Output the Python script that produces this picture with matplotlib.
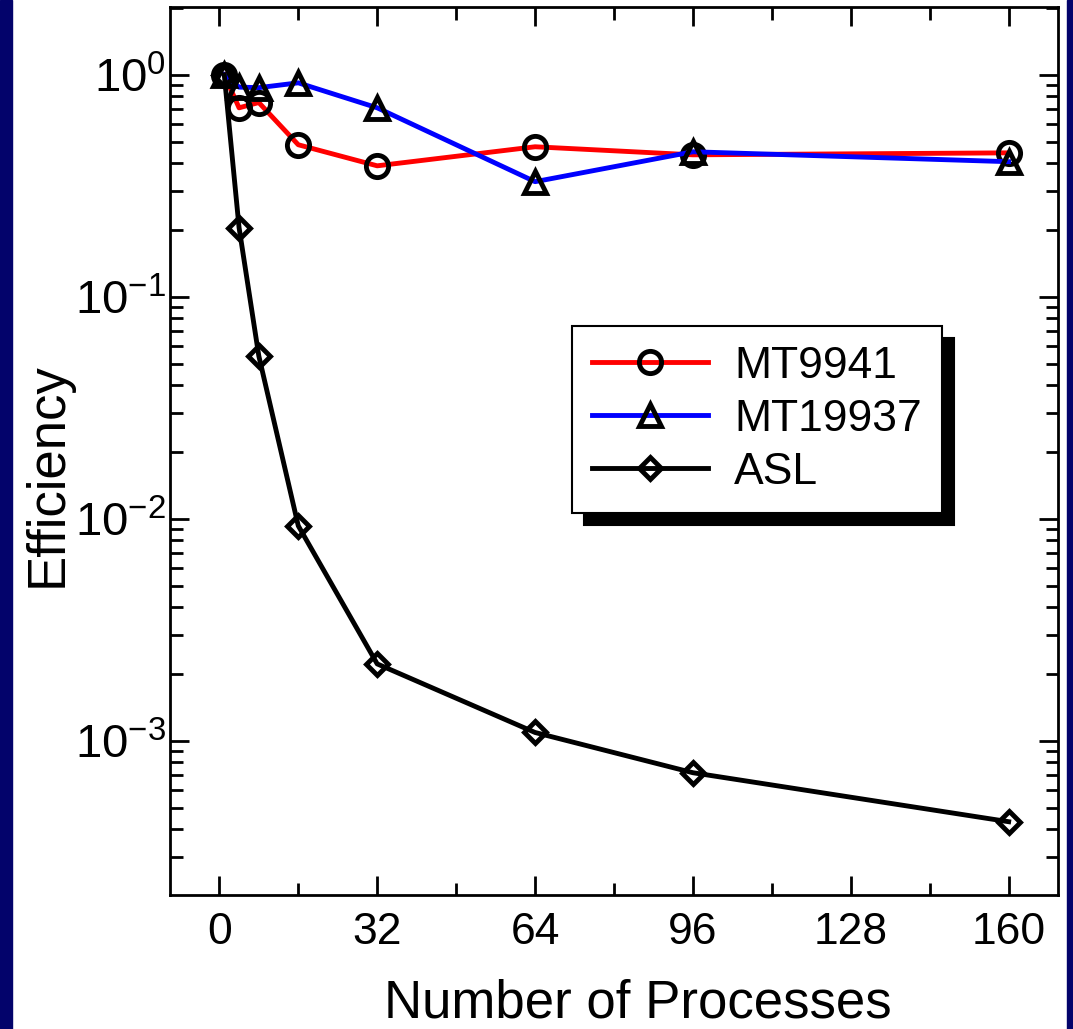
import matplotlib
matplotlib.use('Agg')
import matplotlib.pyplot as plt
from matplotlib.patches import Rectangle
from matplotlib.ticker import LogLocator, MultipleLocator, NullFormatter

# data
procs = [1, 4, 8, 16, 32, 64, 96, 160]
mt9941 = [1.0, 0.71, 0.75, 0.484, 0.389, 0.474, 0.436, 0.445]
mt19937 = [1.0, 0.88, 0.875, 0.92, 0.71, 0.33, 0.45, 0.406]
asl = [1.0, 0.205, 0.0542, 0.0093, 0.00222, 0.00109, 0.000718, 0.000432]
xticks = [0, 32, 64, 96, 128, 160]

plt.rcParams['font.family'] = ['Liberation Sans', 'DejaVu Sans']
plt.rcParams['mathtext.fontset'] = 'custom'
plt.rcParams['mathtext.rm'] = 'Liberation Sans'
plt.rcParams['mathtext.it'] = 'Liberation Sans'
plt.rcParams['mathtext.default'] = 'regular'

fig = plt.figure(figsize=(10.73, 10.29), dpi=100)
navy = '#03036b'
fig.patches.append(Rectangle((0, 0), 12 / 1073, 1, transform=fig.transFigure, color=navy, zorder=0))
fig.patches.append(Rectangle((1067 / 1073, 0), 6 / 1073, 1, transform=fig.transFigure, color=navy, zorder=0))

ax = fig.add_axes([170 / 1073, 1 - 895 / 1029, 888 / 1073, 888 / 1029])

mk = dict(markerfacecolor='none', markeredgecolor='black', markeredgewidth=3.5, markersize=16)
ax.plot(procs, mt9941, color='red', lw=3.5, marker='o', label='MT9941', **mk)
ax.plot(procs, mt19937, color='blue', lw=3.5, marker='^', label='MT19937', **mk)
ax.plot(procs, asl, color='black', lw=3.5, marker='D', label='ASL',
        markerfacecolor='none', markeredgecolor='black', markeredgewidth=3.5, markersize=11)

ax.set_yscale('log')
ax.set_xlim(-10, 170)
ax.set_ylim(2.02e-4, 2.02)
ax.set_xticks(xticks)
ax.xaxis.set_minor_locator(MultipleLocator(16))
ax.yaxis.set_major_locator(LogLocator(base=10, numticks=10))
ax.yaxis.set_minor_locator(LogLocator(base=10, subs=range(2, 10), numticks=20))
ax.yaxis.set_minor_formatter(NullFormatter())

ax.tick_params(which='both', direction='in', top=True, right=True, width=2)
ax.tick_params(which='major', length=14)
ax.tick_params(which='minor', length=9)
ax.tick_params(axis='y', labelsize=34, pad=3)
ax.tick_params(axis='x', labelsize=32, pad=12)

for s in ax.spines.values():
    s.set_linewidth(2)

ax.set_xlabel('Number of Processes', fontsize=38, va='top')
ax.xaxis.set_label_coords(0.527, -0.094)
ax.set_ylabel('Efficiency', fontsize=38)
ax.yaxis.set_label_coords(-0.11, 0.473)

leg = ax.legend(loc='upper left', bbox_to_anchor=(0.4527, 0.6408), borderaxespad=0,
                fontsize=32, handlelength=2.6, handletextpad=0.6, labelspacing=0.27,
                borderpad=0.45, fancybox=False, edgecolor='black', framealpha=1,
                shadow={'color': 'black', 'alpha': 1, 'ox': 8.5, 'oy': -8.5})
leg.get_frame().set_linewidth(1.5)

fig.savefig('out.png', dpi=100)
